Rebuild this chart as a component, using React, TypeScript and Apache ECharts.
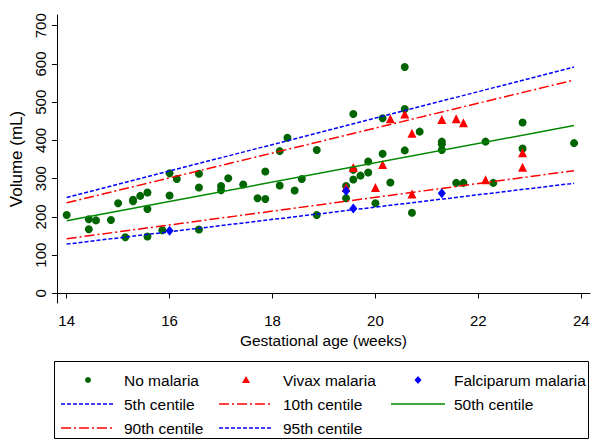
import React, { useEffect, useRef } from "react";
import * as echarts from "echarts";

const FONT = "'Liberation Sans', Arial, Helvetica, sans-serif";

// No malaria (green circles)
const noMalariaWeeks = [14.0, 14.43, 14.43, 14.57, 14.86, 15.0, 15.14, 15.29, 15.29, 15.43, 15.57, 15.57, 15.57, 15.86, 16.0, 16.0, 16.14, 16.57, 16.57, 16.57, 17.0, 17.0, 17.14, 17.43, 17.71, 17.86, 17.86, 18.14, 18.14, 18.29, 18.43, 18.57, 18.86, 18.86, 19.43, 19.43, 19.57, 19.57, 19.57, 19.71, 19.86, 19.86, 20.0, 20.14, 20.14, 20.29, 20.57, 20.57, 20.57, 20.71, 20.86, 21.29, 21.29, 21.29, 21.57, 21.71, 22.14, 22.29, 22.86, 22.86, 23.86];
const noMalariaVolume = [205, 194, 168, 191, 192, 236, 147, 245, 241, 255, 264, 221, 149, 165, 314, 256, 299, 313, 277, 167, 281, 270, 301, 285, 249, 319, 247, 372, 282, 407, 269, 299, 375, 205, 281, 249, 469, 323, 298, 308, 345, 316, 236, 458, 365, 290, 592, 482, 374, 211, 423, 397, 390, 375, 289, 289, 397, 289, 447, 379, 393];

// Vivax malaria (red triangles)
const vivaxWeeks = [19.43, 19.57, 20.0, 20.14, 20.29, 20.57, 20.71, 20.71, 21.29, 21.57, 21.71, 22.14, 22.86, 22.86];
const vivaxVolume = [277, 329, 277, 337, 457, 469, 419, 260, 455, 457, 446, 297, 368, 330];

// Falciparum malaria (blue diamonds)
const falciparumWeeks = [16.0, 19.43, 19.57, 21.29];
const falciparumVolume = [164, 268, 222, 262];

// Reference centiles (straight lines)
const centileWeeks = [14, 23.86];
const p5 = [129, 288];
const p10 = [143, 321];
const p50 = [190, 439];
const p90 = [237, 558];
const p95 = [251, 592];

const xTicks = [14, 16, 18, 20, 22, 24];
const yTicks = [0, 100, 200, 300, 400, 500, 600, 700];

const legendRow1 = ["No malaria", "Vivax malaria", "Falciparum malaria"];
const legendRow2 = ["5th centile", "10th centile", "50th centile"];
const legendRow3 = ["90th centile", "95th centile"];

const GREEN_PT = "#006400";
const GREEN_LN = "#008800";
const RED = "#ff0000";
const BLUE = "#0000ff";
const DASH_BLUE = [4, 2];
const DASH_RED = [10, 3, 2, 3];

const zip = (xs: number[], ys: number[]) => xs.map((x, i) => [x, ys[i]]);

export default function App() {
  const ref = useRef<HTMLDivElement>(null);
  useEffect(() => {
    if (!ref.current) return;
    const chart = echarts.init(ref.current, null, { renderer: "svg" });

    const lineSeries = (name: string, vals: number[], color: string, type: any) => ({
      name,
      type: "line",
      data: zip(centileWeeks, vals),
      showSymbol: false,
      symbol: "none",
      lineStyle: { color, width: 1.5, type },
      z: 3,
      silent: true,
    });

    const colX = [61, 219, 391];
    const colTxt = [124, 283, 454];
    const rowY = [380, 404, 428];
    const txt = (x: number, y: number, s: string) => ({
      type: "text",
      x,
      y,
      style: { text: s, fill: "#000", font: `15.5px ${FONT}`, textVerticalAlign: "middle", textAlign: "left" },
    });
    const seg = (c: number, r: number, color: string, dash: any) => ({
      type: "line",
      shape: { x1: colX[c], y1: rowY[r], x2: colX[c] + 54, y2: rowY[r] },
      style: { stroke: color, lineWidth: 1.5, lineDash: dash },
    });
    const cx = (c: number) => colX[c] + 27;

    const graphic: any[] = [
      { type: "rect", shape: { x: 54.5, y: 361.5, width: 534, height: 77 }, style: { fill: "none", stroke: "#000", lineWidth: 1 } },
      { type: "circle", shape: { cx: cx(0), cy: rowY[0], r: 3 }, style: { fill: GREEN_PT } },
      { type: "polygon", shape: { points: [[cx(1), rowY[0] - 4], [cx(1) - 4, rowY[0] + 3], [cx(1) + 4, rowY[0] + 3]] }, style: { fill: RED } },
      { type: "polygon", shape: { points: [[cx(2), rowY[0] - 4], [cx(2) + 3.5, rowY[0]], [cx(2), rowY[0] + 4], [cx(2) - 3.5, rowY[0]]] }, style: { fill: BLUE } },
      txt(colTxt[0], rowY[0], legendRow1[0]),
      txt(colTxt[1], rowY[0], legendRow1[1]),
      txt(colTxt[2], rowY[0], legendRow1[2]),
      seg(0, 1, BLUE, DASH_BLUE),
      seg(1, 1, RED, DASH_RED),
      seg(2, 1, GREEN_LN, null),
      txt(colTxt[0], rowY[1], legendRow2[0]),
      txt(colTxt[1], rowY[1], legendRow2[1]),
      txt(colTxt[2], rowY[1], legendRow2[2]),
      seg(0, 2, RED, DASH_RED),
      seg(1, 2, BLUE, DASH_BLUE),
      txt(colTxt[0], rowY[2], legendRow3[0]),
      txt(colTxt[1], rowY[2], legendRow3[1]),
    ];

    const axisCommon = {
      axisLine: { show: true, lineStyle: { color: "#000", width: 1 } },
      axisTick: { show: true, length: 5, lineStyle: { color: "#000", width: 1 } },
      splitLine: { show: false },
    };

    chart.setOption({
      animation: false,
      backgroundColor: "#fff",
      grid: { left: 48, right: 10, top: 15, bottom: 138 },
      xAxis: {
        type: "value",
        min: 13.81,
        max: 24.17,
        name: "Gestational age (weeks)",
        nameLocation: "middle",
        nameGap: 28,
        nameTextStyle: { color: "#000", fontSize: 15.5, fontFamily: FONT },
        ...axisCommon,
        axisTick: { ...axisCommon.axisTick, customValues: xTicks },
        axisLabel: { customValues: xTicks, color: "#000", fontSize: 15, fontFamily: FONT, margin: 10, showMinLabel: true, showMaxLabel: true },
      },
      yAxis: {
        type: "value",
        min: -25,
        max: 728,
        name: "Volume (mL)",
        nameLocation: "middle",
        nameGap: 22,
        nameRotate: 90,
        nameTextStyle: { color: "#000", fontSize: 17, fontFamily: FONT },
        ...axisCommon,
        axisTick: { ...axisCommon.axisTick, customValues: yTicks },
        axisLabel: { customValues: yTicks, rotate: 90, color: "#000", fontSize: 15, fontFamily: FONT, margin: 9 },
      },
      graphic,
      series: [
        {
          name: legendRow1[0],
          type: "scatter",
          data: zip(noMalariaWeeks, noMalariaVolume),
          symbol: "circle",
          symbolSize: 8,
          itemStyle: { color: GREEN_PT, opacity: 1 },
          z: 2,
        },
        {
          name: legendRow1[1],
          type: "scatter",
          data: zip(vivaxWeeks, vivaxVolume),
          symbol: "triangle",
          symbolSize: 9,
          itemStyle: { color: RED, opacity: 1 },
          z: 2,
        },
        {
          name: legendRow1[2],
          type: "scatter",
          data: zip(falciparumWeeks, falciparumVolume),
          symbol: "diamond",
          symbolSize: [8, 10],
          itemStyle: { color: BLUE, opacity: 1 },
          z: 2,
        },
        lineSeries(legendRow2[0], p5, BLUE, DASH_BLUE),
        lineSeries(legendRow2[1], p10, RED, DASH_RED),
        lineSeries(legendRow2[2], p50, GREEN_LN, "solid"),
        lineSeries(legendRow3[0], p90, RED, DASH_RED),
        lineSeries(legendRow3[1], p95, BLUE, DASH_BLUE),
      ],
    });
    return () => chart.dispose();
  }, []);

  return <div ref={ref} style={{ position: "fixed", left: 0, top: 0, width: 600, height: 441 }} />;
}
